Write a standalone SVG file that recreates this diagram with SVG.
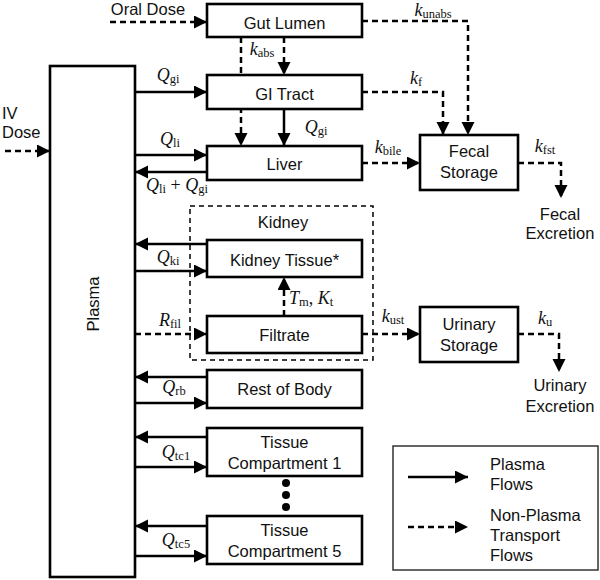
<svg xmlns="http://www.w3.org/2000/svg" width="600" height="580" viewBox="0 0 600 580">
<defs>
<marker id="ah" markerUnits="userSpaceOnUse" markerWidth="14" markerHeight="14" refX="13" refY="6.5" orient="auto">
<path d="M0,0 L13,6.5 L0,13 z" fill="#000"/>
</marker>
<style>
.box{fill:#fff;stroke:#000;stroke-width:2.6}
.t{font-family:"Liberation Sans",Arial,sans-serif;font-size:16.5px;fill:#111;text-anchor:middle}
.tl{font-family:"Liberation Sans",Arial,sans-serif;font-size:16.5px;fill:#111}
.m{font-family:"Liberation Serif","Times New Roman",serif;font-size:18px;font-style:italic;fill:#111;text-anchor:middle}
.s{font-size:12.5px;font-style:normal}
.sol{fill:none;stroke:#000;stroke-width:2.5;marker-end:url(#ah)}
.dsh{fill:none;stroke:#000;stroke-width:2.5;stroke-dasharray:6,4;marker-end:url(#ah)}
</style>
</defs>
<rect width="600" height="580" fill="#fff"/>

<g id="kidney-group">
<rect x="190" y="206" width="183" height="154" fill="none" stroke="#000" stroke-width="1.5" stroke-dasharray="5,4"/>
<text class="t" x="283" y="228">Kidney</text>
</g>

<g id="connectors">
<line class="dsh" x1="110" y1="22" x2="207" y2="22"/>
<line class="dsh" x1="5" y1="151" x2="50" y2="151"/>
<line class="dsh" x1="284" y1="37" x2="284" y2="75"/>
<line class="dsh" x1="241" y1="37" x2="241" y2="146"/>
<line class="sol" x1="284" y1="109" x2="284" y2="146"/>
<line class="sol" x1="135" y1="92" x2="207" y2="92"/>
<line class="sol" x1="135" y1="155" x2="207" y2="155"/>
<line class="sol" x1="207" y1="172" x2="135" y2="172"/>
<path class="dsh" d="M362,21 H468 V135"/>
<path class="dsh" d="M362,92 H443 V135"/>
<path class="dsh" d="M362,163 H420"/>
<path class="dsh" d="M518,163 H561 V198"/>
<line class="sol" x1="207" y1="244" x2="135" y2="244"/>
<line class="sol" x1="135" y1="271" x2="207" y2="271"/>
<line class="dsh" x1="135" y1="334" x2="207" y2="334"/>
<line class="dsh" x1="284" y1="316" x2="284" y2="277"/>
<line class="dsh" x1="362" y1="334" x2="420" y2="334"/>
<path class="dsh" d="M518,334 H559 V372"/>
<line class="sol" x1="207" y1="377" x2="135" y2="377"/>
<line class="sol" x1="135" y1="403" x2="207" y2="403"/>
<line class="sol" x1="207" y1="437" x2="135" y2="437"/>
<line class="sol" x1="135" y1="467" x2="207" y2="467"/>
<line class="sol" x1="207" y1="526" x2="135" y2="526"/>
<line class="sol" x1="135" y1="556" x2="207" y2="556"/>
</g>

<g id="connector-labels">
<text class="t" x="148" y="15">Oral Dose</text>
<text class="tl" x="2" y="119">IV</text>
<text class="tl" x="2" y="138">Dose</text>
<text class="m" x="262" y="55">k<tspan class="s" dy="2">abs</tspan></text>
<text class="m" x="433" y="16">k<tspan class="s" dy="2">unabs</tspan></text>
<text class="m" x="168" y="81">Q<tspan class="s" dy="2">gi</tspan></text>
<text class="m" x="416" y="84">k<tspan class="s" dy="2">f</tspan></text>
<text class="m" x="316" y="133">Q<tspan class="s" dy="2">gi</tspan></text>
<text class="m" x="170" y="145">Q<tspan class="s" dy="2">li</tspan></text>
<text class="m" x="388" y="153">k<tspan class="s" dy="2">bile</tspan></text>
<text class="m" x="177" y="191">Q<tspan class="s" dy="2">li</tspan><tspan dy="-2" font-style="normal">  +  </tspan>Q<tspan class="s" dy="2">gi</tspan></text>
<text class="m" x="545" y="152">k<tspan class="s" dy="2">fst</tspan></text>
<text class="t" x="560" y="220">Fecal</text>
<text class="t" x="560" y="239">Excretion</text>
<text class="m" x="168" y="263">Q<tspan class="s" dy="2">ki</tspan></text>
<text class="m" x="311" y="304">T<tspan class="s" dy="2">m</tspan><tspan dy="-2" font-style="normal">, </tspan>K<tspan class="s" dy="2">t</tspan></text>
<text class="m" x="170" y="326">R<tspan class="s" dy="2">fil</tspan></text>
<text class="m" x="393" y="322">k<tspan class="s" dy="2">ust</tspan></text>
<text class="m" x="545" y="324">k<tspan class="s" dy="2">u</tspan></text>
<text class="t" x="560" y="391">Urinary</text>
<text class="t" x="560" y="412">Excretion</text>
<text class="m" x="174" y="393">Q<tspan class="s" dy="2">rb</tspan></text>
<text class="m" x="176" y="458">Q<tspan class="s" dy="2">tc1</tspan></text>
<text class="m" x="176" y="546">Q<tspan class="s" dy="2">tc5</tspan></text>
</g>

<g id="plasma">
<rect class="box" x="50" y="66" width="85" height="511"/>
<text class="t" transform="translate(99,304) rotate(-90)">Plasma</text>
</g>
<g id="gut-lumen">
<rect class="box" x="207" y="4" width="155" height="33"/>
<text class="t" x="284.5" y="29">Gut Lumen</text>
</g>
<g id="gi-tract">
<rect class="box" x="207" y="75" width="155" height="34"/>
<text class="t" x="284.5" y="100">GI Tract</text>
</g>
<g id="liver">
<rect class="box" x="207" y="146" width="155" height="34"/>
<text class="t" x="284.5" y="170">Liver</text>
</g>
<g id="fecal-storage">
<rect class="box" x="420" y="135" width="98" height="55"/>
<text class="t" x="469" y="157">Fecal</text>
<text class="t" x="469" y="178">Storage</text>
</g>
<g id="kidney-tissue">
<rect class="box" x="207" y="240" width="155" height="37"/>
<text class="t" x="284.5" y="266">Kidney Tissue*</text>
</g>
<g id="filtrate">
<rect class="box" x="207" y="316" width="155" height="37"/>
<text class="t" x="284.5" y="341">Filtrate</text>
</g>
<g id="urinary-storage">
<rect class="box" x="420" y="307" width="98" height="55"/>
<text class="t" x="469" y="330">Urinary</text>
<text class="t" x="469" y="351">Storage</text>
</g>
<g id="rest-of-body">
<rect class="box" x="207" y="370" width="155" height="38"/>
<text class="t" x="284.5" y="395">Rest of Body</text>
</g>
<g id="tissue-compartment-1">
<rect class="box" x="207" y="428" width="155" height="48"/>
<text class="t" x="284.5" y="448">Tissue</text>
<text class="t" x="284.5" y="469">Compartment 1</text>
</g>
<g id="ellipsis">
<circle cx="286" cy="483" r="4"/>
<circle cx="286" cy="495" r="4"/>
<circle cx="286" cy="507" r="4"/>
</g>
<g id="tissue-compartment-5">
<rect class="box" x="207" y="516" width="155" height="48"/>
<text class="t" x="284.5" y="536">Tissue</text>
<text class="t" x="284.5" y="557">Compartment 5</text>
</g>

<g id="legend">
<rect x="393" y="446" width="205" height="124" fill="#fff" stroke="#333" stroke-width="1.5"/>
<line class="sol" x1="408" y1="477" x2="468" y2="477"/>
<line class="dsh" x1="408" y1="527" x2="468" y2="527"/>
<text class="tl" x="490" y="470">Plasma</text>
<text class="tl" x="490" y="490">Flows</text>
<text class="tl" x="490" y="521">Non-Plasma</text>
<text class="tl" x="490" y="541">Transport</text>
<text class="tl" x="490" y="561">Flows</text>
</g>
</svg>
